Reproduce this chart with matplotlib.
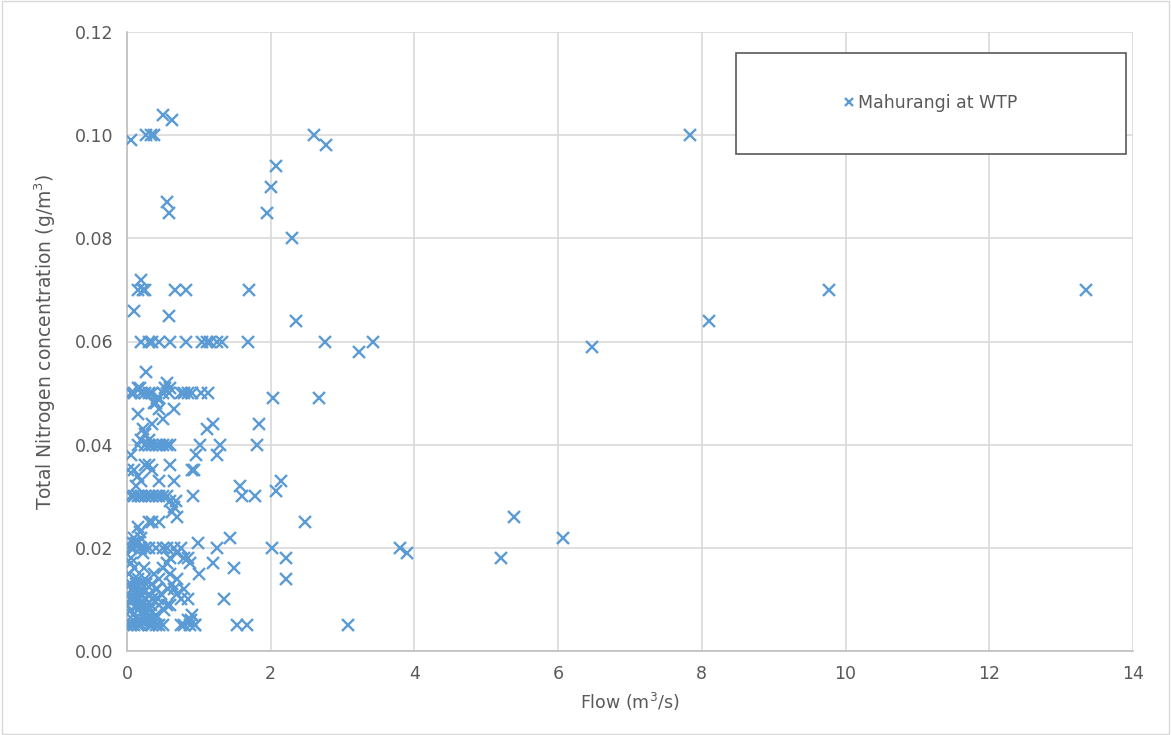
import matplotlib
matplotlib.use("Agg")
import matplotlib.pyplot as plt
from matplotlib import font_manager
from matplotlib.patches import Rectangle

# flow (m3/s) and total nitrogen (g/m3)
flow = [
    # upper scatter
    0.05, 0.27, 0.33, 0.37, 0.50, 0.62, 0.55, 0.58,
    0.15, 0.20, 0.22, 0.25, 0.10, 0.67, 0.82, 1.70, 0.58,
    0.20, 0.30, 0.35, 0.45, 0.60, 0.82, 1.05, 1.12, 1.16, 1.25, 1.32, 1.68,
    1.95, 2.00, 2.08, 2.30, 2.60, 2.77, 2.35, 2.75, 3.23, 3.43, 2.03, 2.67,
    6.47, 7.83, 8.10, 9.77, 13.35,
    5.38, 6.07, 5.20, 3.80, 3.90, 3.08,
    # 1-2.5 m3/s middle
    2.48, 2.02, 2.21, 2.21, 2.14, 2.07, 1.84, 1.81, 1.57, 1.60, 1.78,
    1.43, 1.49, 1.53, 1.67, 1.35, 1.30, 1.25, 1.20, 1.11, 1.02, 0.96,
    1.25, 1.20, 1.00, 0.99, 1.13, 1.03, 0.93, 0.92, 0.88, 0.95, 0.89,
    # 0.05 band
    0.05, 0.10, 0.15, 0.20, 0.25, 0.30, 0.35, 0.40, 0.45, 0.50, 0.53,
    0.55, 0.60, 0.75, 0.80, 0.85, 0.90, 0.27, 0.18, 0.58,
    # 0.04-0.05
    0.15, 0.25, 0.35, 0.45, 0.50, 0.65, 0.30, 0.38, 0.22, 0.42,
    # 0.04 band
    0.15, 0.20, 0.25, 0.30, 0.35, 0.40, 0.45, 0.50, 0.55, 0.60,
    # 0.03-0.04
    0.05, 0.10, 0.02, 0.15, 0.20, 0.30, 0.35, 0.45, 0.60, 0.65, 0.90,
    0.65, 0.70, 0.45, 0.35, 0.12, 0.25,
    # 0.03 band
    0.05, 0.10, 0.15, 0.20, 0.25, 0.30, 0.35, 0.40, 0.45, 0.50, 0.55,
    0.60, 0.63, 0.68,
    # 0.02-0.03
    0.15, 0.10, 0.20, 0.30, 0.08, 0.18,
    # 0.02 band
    0.05, 0.10, 0.15, 0.20, 0.25, 0.30, 0.40, 0.50, 0.55, 0.65, 0.70,
    0.75, 0.80, 0.85, 0.12, 0.22, 0.60,
    # 0.005-0.018 cluster
    0.05, 0.10, 0.05, 0.15, 0.20, 0.25, 0.30, 0.35, 0.40, 0.45, 0.50,
    0.55, 0.60, 0.65, 0.70, 0.75, 0.80, 0.85, 0.60, 0.00, 0.05, 0.10,
    0.15, 0.20, 0.25, 0.30, 0.40, 0.45, 0.02, 0.08, 0.12, 0.18, 0.28,
    0.35, 0.48, 0.55, 0.70, 0.03, 0.13, 0.22, 0.32, 0.42, 0.52, 0.62,
    0.07, 0.17, 0.24, 0.10, 0.20, 0.27, 0.04, 0.14, 0.33, 0.38, 0.09,
    0.19, 0.26, 0.06, 0.16, 0.23, 0.31, 0.43, 0.57, 0.11, 0.21,
    # 0.005 band
    0.00, 0.05, 0.10, 0.15, 0.20, 0.25, 0.30, 0.35, 0.40, 0.45, 0.50,
    0.75, 0.80, 0.85, 0.90, 0.95, 0.88, 0.08, 0.18, 0.28, 0.38,
]
tn = [
    0.099, 0.100, 0.100, 0.100, 0.104, 0.103, 0.087, 0.085,
    0.070, 0.072, 0.070, 0.070, 0.066, 0.070, 0.070, 0.070, 0.065,
    0.060, 0.060, 0.060, 0.060, 0.060, 0.060, 0.060, 0.060, 0.060, 0.060, 0.060, 0.060,
    0.085, 0.090, 0.094, 0.080, 0.100, 0.098, 0.064, 0.060, 0.058, 0.060, 0.049, 0.049,
    0.059, 0.100, 0.064, 0.070, 0.070,
    0.026, 0.022, 0.018, 0.020, 0.019, 0.005,
    0.025, 0.020, 0.018, 0.014, 0.033, 0.031, 0.044, 0.040, 0.032, 0.030, 0.030,
    0.022, 0.016, 0.005, 0.005, 0.010, 0.040, 0.038, 0.044, 0.043, 0.040, 0.038,
    0.020, 0.017, 0.015, 0.021, 0.050, 0.050, 0.035, 0.030, 0.017, 0.005, 0.006,
    0.050, 0.050, 0.051, 0.050, 0.050, 0.050, 0.050, 0.048, 0.049, 0.050, 0.051,
    0.052, 0.051, 0.050, 0.050, 0.050, 0.050, 0.054, 0.051, 0.050,
    0.046, 0.042, 0.044, 0.047, 0.045, 0.047, 0.041, 0.048, 0.043, 0.049,
    0.040, 0.041, 0.040, 0.040, 0.040, 0.040, 0.040, 0.040, 0.040, 0.040,
    0.038, 0.035, 0.035, 0.034, 0.033, 0.036, 0.035, 0.033, 0.036, 0.033, 0.035,
    0.028, 0.026, 0.025, 0.025, 0.032, 0.036,
    0.030, 0.030, 0.030, 0.030, 0.030, 0.030, 0.030, 0.030, 0.030, 0.030, 0.030,
    0.029, 0.027, 0.029,
    0.024, 0.022, 0.022, 0.025, 0.021, 0.023,
    0.020, 0.020, 0.021, 0.020, 0.020, 0.020, 0.020, 0.020, 0.020, 0.020, 0.019,
    0.020, 0.018, 0.018, 0.021, 0.019, 0.018,
    0.018, 0.016, 0.013, 0.014, 0.012, 0.014, 0.011, 0.010, 0.012, 0.014, 0.016,
    0.017, 0.015, 0.012, 0.011, 0.010, 0.012, 0.010, 0.009, 0.009, 0.008, 0.010,
    0.008, 0.009, 0.007, 0.008, 0.007, 0.009, 0.011, 0.012, 0.013, 0.011, 0.009,
    0.013, 0.011, 0.009, 0.014, 0.015, 0.010, 0.007, 0.006, 0.012, 0.008, 0.013,
    0.012, 0.010, 0.016, 0.014, 0.011, 0.013, 0.010, 0.012, 0.009, 0.015, 0.007,
    0.006, 0.010, 0.017, 0.009, 0.008, 0.007, 0.010, 0.012, 0.011, 0.013,
    0.005, 0.005, 0.005, 0.005, 0.005, 0.006, 0.005, 0.005, 0.005, 0.005, 0.005,
    0.005, 0.005, 0.006, 0.007, 0.005, 0.005, 0.006, 0.006, 0.006, 0.006,
]
series_name = "Mahurangi at WTP"
x_ticks = [0, 2, 4, 6, 8, 10, 12, 14]
y_ticks = [0.00, 0.02, 0.04, 0.06, 0.08, 0.10, 0.12]

blue = "#5B9BD5"
grey_text = "#595959"
grid_col = "#D9D9D9"

installed = {f.name for f in font_manager.fontManager.ttflist}
label_font = "Liberation Sans Narrow" if "Liberation Sans Narrow" in installed else "DejaVu Sans"

fig = plt.figure(figsize=(11.71, 7.35), dpi=100)
ax = fig.add_axes([127 / 1171, 1 - 651 / 735, (1133 - 127) / 1171, (651 - 32) / 735])

ax.plot(flow, tn, linestyle="none", marker="x", markersize=9,
        markeredgewidth=1.7, color=blue, label=series_name, zorder=3)

ax.set_xlim(0, 14)
ax.set_ylim(0, 0.12)
ax.set_xticks(x_ticks)
ax.set_yticks(y_ticks)
ax.set_xticklabels([str(v) for v in x_ticks])
ax.set_yticklabels(["%.2f" % v for v in y_ticks])
ax.grid(True, color=grid_col, linewidth=1.2, zorder=0)
ax.set_axisbelow(True)
for side in ["top", "right"]:
    ax.spines[side].set_visible(False)
for side in ["left", "bottom"]:
    ax.spines[side].set_color("#BFBFBF")
    ax.spines[side].set_linewidth(1.2)
ax.tick_params(length=0, labelsize=12.5, labelcolor=grey_text, pad=10)

ax.set_xlabel(r"Flow (m$^3$/s)", fontsize=12.5, color=grey_text, labelpad=6)
ax.set_ylabel(r"Total Nitrogen concentration (g/m$^3$)", fontsize=13.5,
              color=grey_text, labelpad=12, family=label_font)

# legend box
box = (736 / 1171, 1 - 154 / 735, 390 / 1171, 101 / 735)
fig.patches.append(Rectangle(box[:2], box[2], box[3], transform=fig.transFigure,
                             facecolor="white", edgecolor="#595959",
                             linewidth=1.2, zorder=5))
leg = fig.legend(loc="center", bbox_to_anchor=box, frameon=False,
                 fontsize=12.5, handlelength=0.5, handletextpad=0.3,
                 markerscale=0.7, labelcolor=grey_text)
leg.set_zorder(6)

# outer frame
fig.patches.append(Rectangle((0.002, 0.002), 0.996, 0.996, transform=fig.transFigure,
                             facecolor="none", edgecolor="#D9D9D9", linewidth=1))

fig.savefig("out.png", dpi=100)
